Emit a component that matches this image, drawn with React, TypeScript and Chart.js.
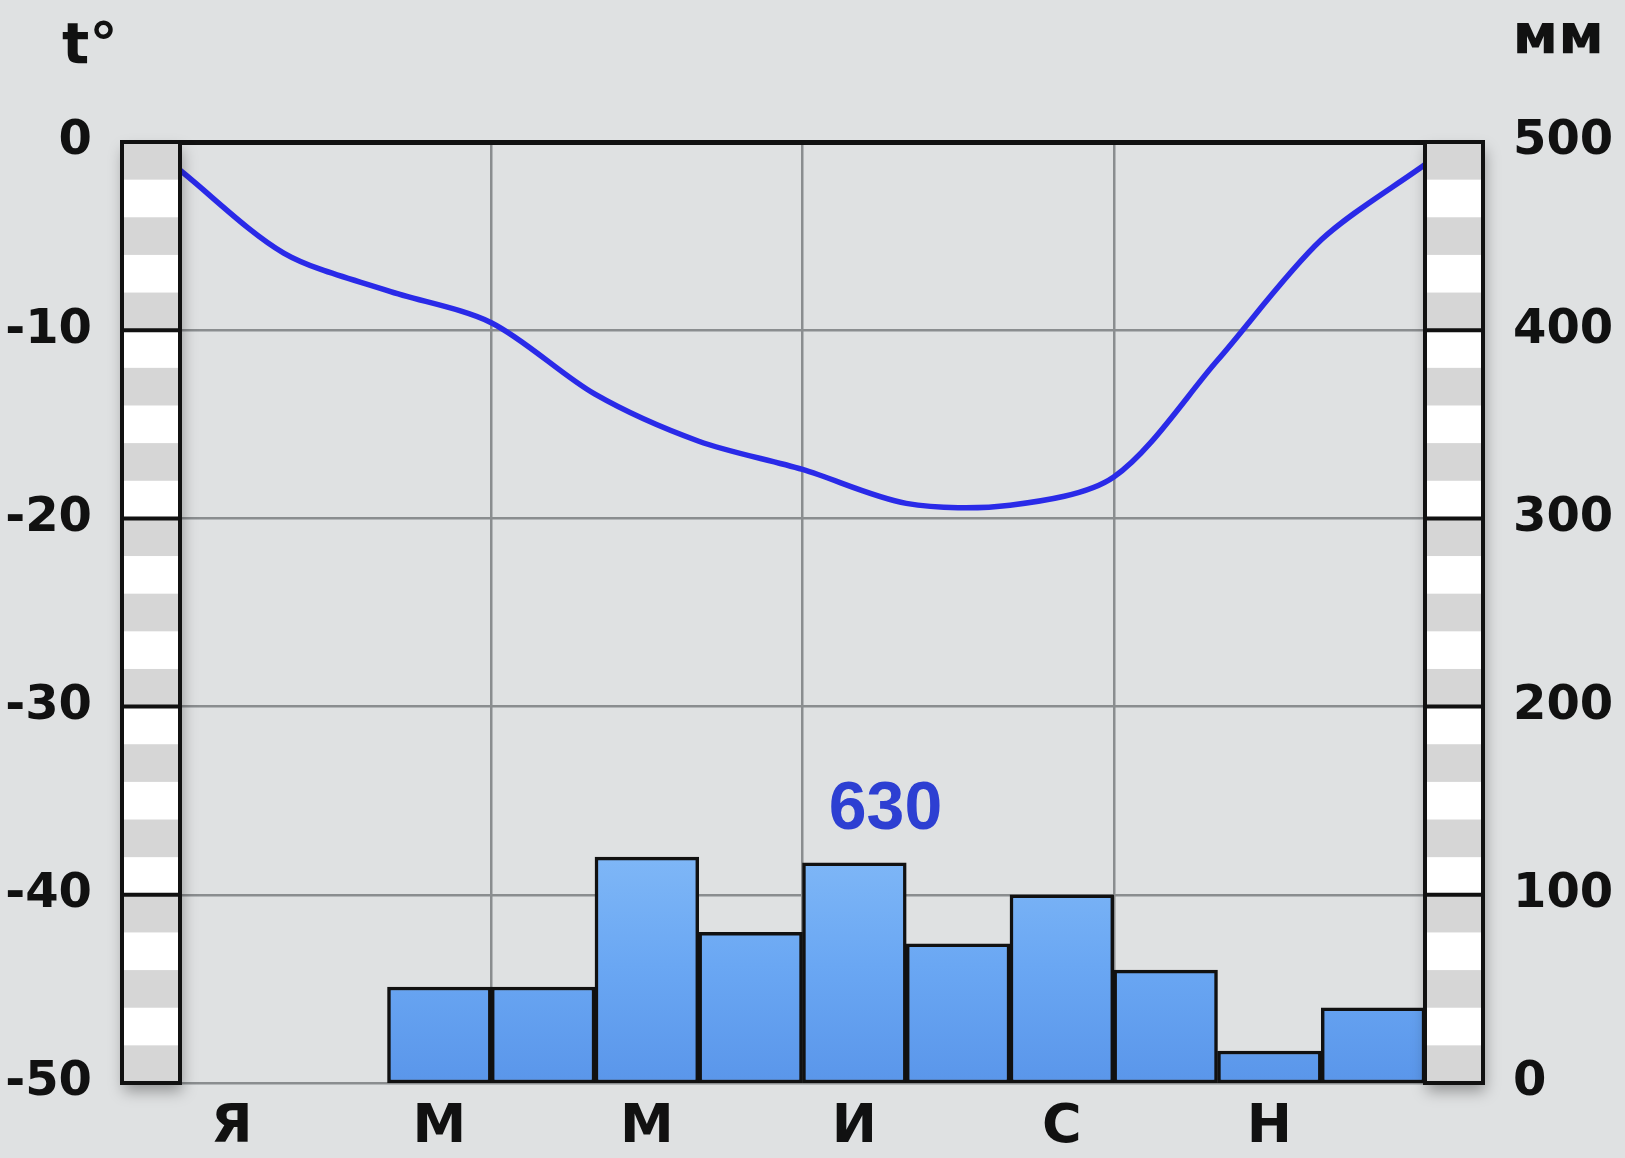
import React, { useEffect, useRef } from 'react';
import { Chart, registerables } from 'chart.js';

Chart.register(...registerables);

// ---- data ----
const MONTHS = ['Я', 'Ф', 'М', 'А', 'М', 'И', 'И', 'А', 'С', 'О', 'Н', 'Д'];
const LABELLED_MONTHS = [0, 2, 4, 6, 8, 10];
const MONTH_CENTERS = [0.5, 1.5, 2.5, 3.5, 4.5, 5.5, 6.5, 7.5, 8.5, 9.5, 10.5, 11.5];
const PRECIPITATION_MM = [0, 0, 51, 51, 120, 80, 117, 74, 100, 60, 17, 40];
const TEMP_POSITIONS = [0, 1, 2, 3, 4, 5, 6, 7, 8, 9, 10, 11, 12];
const TEMPERATURE_C = [-1.5, -5.9, -7.9, -9.6, -13.4, -15.9, -17.4, -19.2, -19.3, -17.8, -11.6, -5.2, -1.2];
const TEMP_RANGE = [-50, 0];
const TEMP_STEP = 10;
const STRIPE_STEP = 2;
const PRECIP_RANGE = [0, 500];
const PRECIP_STEP = 100;
const GRID_MONTHS = [3, 6, 9];
const TOTAL_LABEL = '630';
const TOTAL_LABEL_POS = [6.8, 145];
const TEMP_UNIT = 't°';
const PRECIP_UNIT = 'мм';

// ---- style ----
const BG = '#dfe1e2';
const GRID = '#8a8d8f';
const INK = '#111111';
const LINE_COLOR = '#2a2ae8';
const LABEL_BLUE = '#2d3fd2';
const STRIP_GRAY = '#d6d6d6';
const STRIP_W = 58;
const FONT = '"DejaVu Sans", "Liberation Sans", sans-serif';

const decorPlugin = {
  id: 'climateDecor',
  beforeDraw(chart: any) {
    const { ctx, width, height } = chart;
    ctx.save();
    ctx.fillStyle = BG;
    ctx.fillRect(0, 0, width, height);
    ctx.restore();
  },
  afterDatasetsDraw(chart: any) {
    const { ctx } = chart;
    const x = chart.scales.x.getPixelForValue(TOTAL_LABEL_POS[0]);
    const y = chart.scales.y1.getPixelForValue(TOTAL_LABEL_POS[1]);
    ctx.save();
    ctx.font = 'bold 68px "Liberation Sans", Arial, sans-serif';
    ctx.fillStyle = LABEL_BLUE;
    ctx.textAlign = 'center';
    ctx.textBaseline = 'middle';
    ctx.fillText(TOTAL_LABEL, x, y);
    ctx.restore();
  },
  afterDraw(chart: any) {
    const { ctx, chartArea } = chart;
    const ys = chart.scales.y;
    const top = ys.getPixelForValue(ys.max);
    const bottom = ys.getPixelForValue(ys.min);
    const starts = [chartArea.left - STRIP_W, chartArea.right];
    for (const x0 of starts) {
      ctx.save();
      ctx.shadowColor = 'rgba(0,0,0,0.35)';
      ctx.shadowBlur = 14;
      ctx.shadowOffsetY = 8;
      ctx.shadowOffsetX = 2;
      ctx.fillStyle = '#ffffff';
      ctx.fillRect(x0, top, STRIP_W, bottom - top);
      ctx.restore();
      ctx.save();
      let i = 0;
      for (let v = ys.max; v > ys.min; v -= STRIPE_STEP, i++) {
        if (i % 2 === 0) {
          const p0 = ys.getPixelForValue(v);
          const p1 = ys.getPixelForValue(v - STRIPE_STEP);
          ctx.fillStyle = STRIP_GRAY;
          ctx.fillRect(x0, p0, STRIP_W, p1 - p0);
        }
      }
      ctx.strokeStyle = INK;
      ctx.lineWidth = 4;
      for (let v = ys.max - TEMP_STEP; v > ys.min; v -= TEMP_STEP) {
        const p = ys.getPixelForValue(v);
        ctx.beginPath();
        ctx.moveTo(x0, p);
        ctx.lineTo(x0 + STRIP_W, p);
        ctx.stroke();
      }
      ctx.strokeRect(x0, top, STRIP_W, bottom - top);
      ctx.restore();
    }
    // unit captions
    ctx.save();
    ctx.fillStyle = INK;
    ctx.textBaseline = 'alphabetic';
    ctx.font = `bold 57px ${FONT}`;
    ctx.textAlign = 'left';
    ctx.fillText(TEMP_UNIT, 62, 63);
    ctx.font = `bold 56px ${FONT}`;
    ctx.textAlign = 'right';
    ctx.fillText(PRECIP_UNIT, 1604, 53);
    ctx.restore();
  },
};

function barGradient(context: any) {
  const chart = context.chart;
  const { chartArea } = chart;
  if (!chartArea) return '#69a6f3';
  const y1 = chart.scales.y1;
  const g = chart.ctx.createLinearGradient(0, y1.getPixelForValue(125), 0, y1.getPixelForValue(0));
  g.addColorStop(0, '#80b8f7');
  g.addColorStop(0.5, '#6aa7f3');
  g.addColorStop(1, '#5a96ea');
  return g;
}

function fixedWidth(w: number) {
  return (s: any) => {
    s.width = w;
    s.paddingTop = 0;
    s.paddingBottom = 0;
  };
}

export default function App() {
  const ref = useRef<HTMLCanvasElement>(null);
  useEffect(() => {
    document.body.style.margin = '0';
    document.body.style.overflow = 'hidden';
    const tickFont = { family: FONT, weight: 'bold' as const, size: 48 };
    const chart = new Chart(ref.current!, {
      type: 'bar',
      data: {
        datasets: [
          {
            type: 'line',
            label: 'temperature',
            data: TEMP_POSITIONS.map((x, i) => ({ x, y: TEMPERATURE_C[i] })),
            xAxisID: 'x',
            yAxisID: 'y',
            borderColor: LINE_COLOR,
            borderWidth: 5.5,
            tension: 0.3,
            pointRadius: 0,
            fill: false,
          } as any,
          {
            type: 'bar',
            label: 'precipitation',
            data: MONTH_CENTERS.map((x, i) => ({ x, y: PRECIPITATION_MM[i] })),
            xAxisID: 'x',
            yAxisID: 'y1',
            backgroundColor: barGradient,
            borderColor: INK,
            borderWidth: 3.5,
            borderSkipped: false,
            barPercentage: 1,
            categoryPercentage: 1,
          } as any,
        ],
      },
      options: {
        animation: false,
        responsive: true,
        maintainAspectRatio: false,
        layout: { padding: 0 },
        plugins: { legend: { display: false }, tooltip: { enabled: false } },
        events: [],
        scales: {
          x: {
            type: 'linear',
            position: 'bottom',
            min: 0,
            max: 12,
            offset: false,
            grid: { display: false, drawTicks: false, offset: false },
            border: { display: false },
            afterBuildTicks: (s: any) => {
              s.ticks = LABELLED_MONTHS.map((m) => ({ value: MONTH_CENTERS[m] }));
            },
            afterFit: (s: any) => {
              s.height = 75;
            },
            ticks: {
              autoSkip: false,
              maxRotation: 0,
              minRotation: 0,
              padding: 13,
              color: INK,
              font: { family: FONT, weight: 'bold', size: 54 },
              callback: (v: any) => MONTHS[Math.floor(Number(v))],
            },
          },
          x2: {
            type: 'linear',
            position: 'top',
            min: 0,
            max: 12,
            offset: false,
            grid: { display: true, drawTicks: false, offset: false, color: GRID, lineWidth: 2.5 },
            border: { display: true, color: INK, width: 5 },
            afterBuildTicks: (s: any) => {
              s.ticks = GRID_MONTHS.map((v) => ({ value: v }));
            },
            afterFit: (s: any) => {
              s.height = 142;
            },
            ticks: { display: false },
          },
          y: {
            type: 'linear',
            position: 'left',
            min: TEMP_RANGE[0],
            max: TEMP_RANGE[1],
            grid: {
              drawTicks: false,
              lineWidth: 2.5,
              color: (c: any) => (c.tick && c.tick.value === TEMP_RANGE[1] ? 'rgba(0,0,0,0)' : GRID),
            },
            border: { display: false },
            afterFit: fixedWidth(180),
            ticks: {
              stepSize: TEMP_STEP,
              padding: 88,
              color: INK,
              font: tickFont,
              callback: (v: any) => String(v),
            },
          },
          y1: {
            type: 'linear',
            position: 'right',
            min: PRECIP_RANGE[0],
            max: PRECIP_RANGE[1],
            grid: { display: false, drawTicks: false },
            border: { display: false },
            afterFit: fixedWidth(200),
            ticks: {
              stepSize: PRECIP_STEP,
              padding: 88,
              color: INK,
              font: tickFont,
            },
          },
        },
      },
      plugins: [decorPlugin],
    } as any);
    return () => chart.destroy();
  }, []);
  return (
    <div style={{ position: 'relative', width: 1625, height: 1158, background: BG }}>
      <canvas ref={ref} />
    </div>
  );
}
